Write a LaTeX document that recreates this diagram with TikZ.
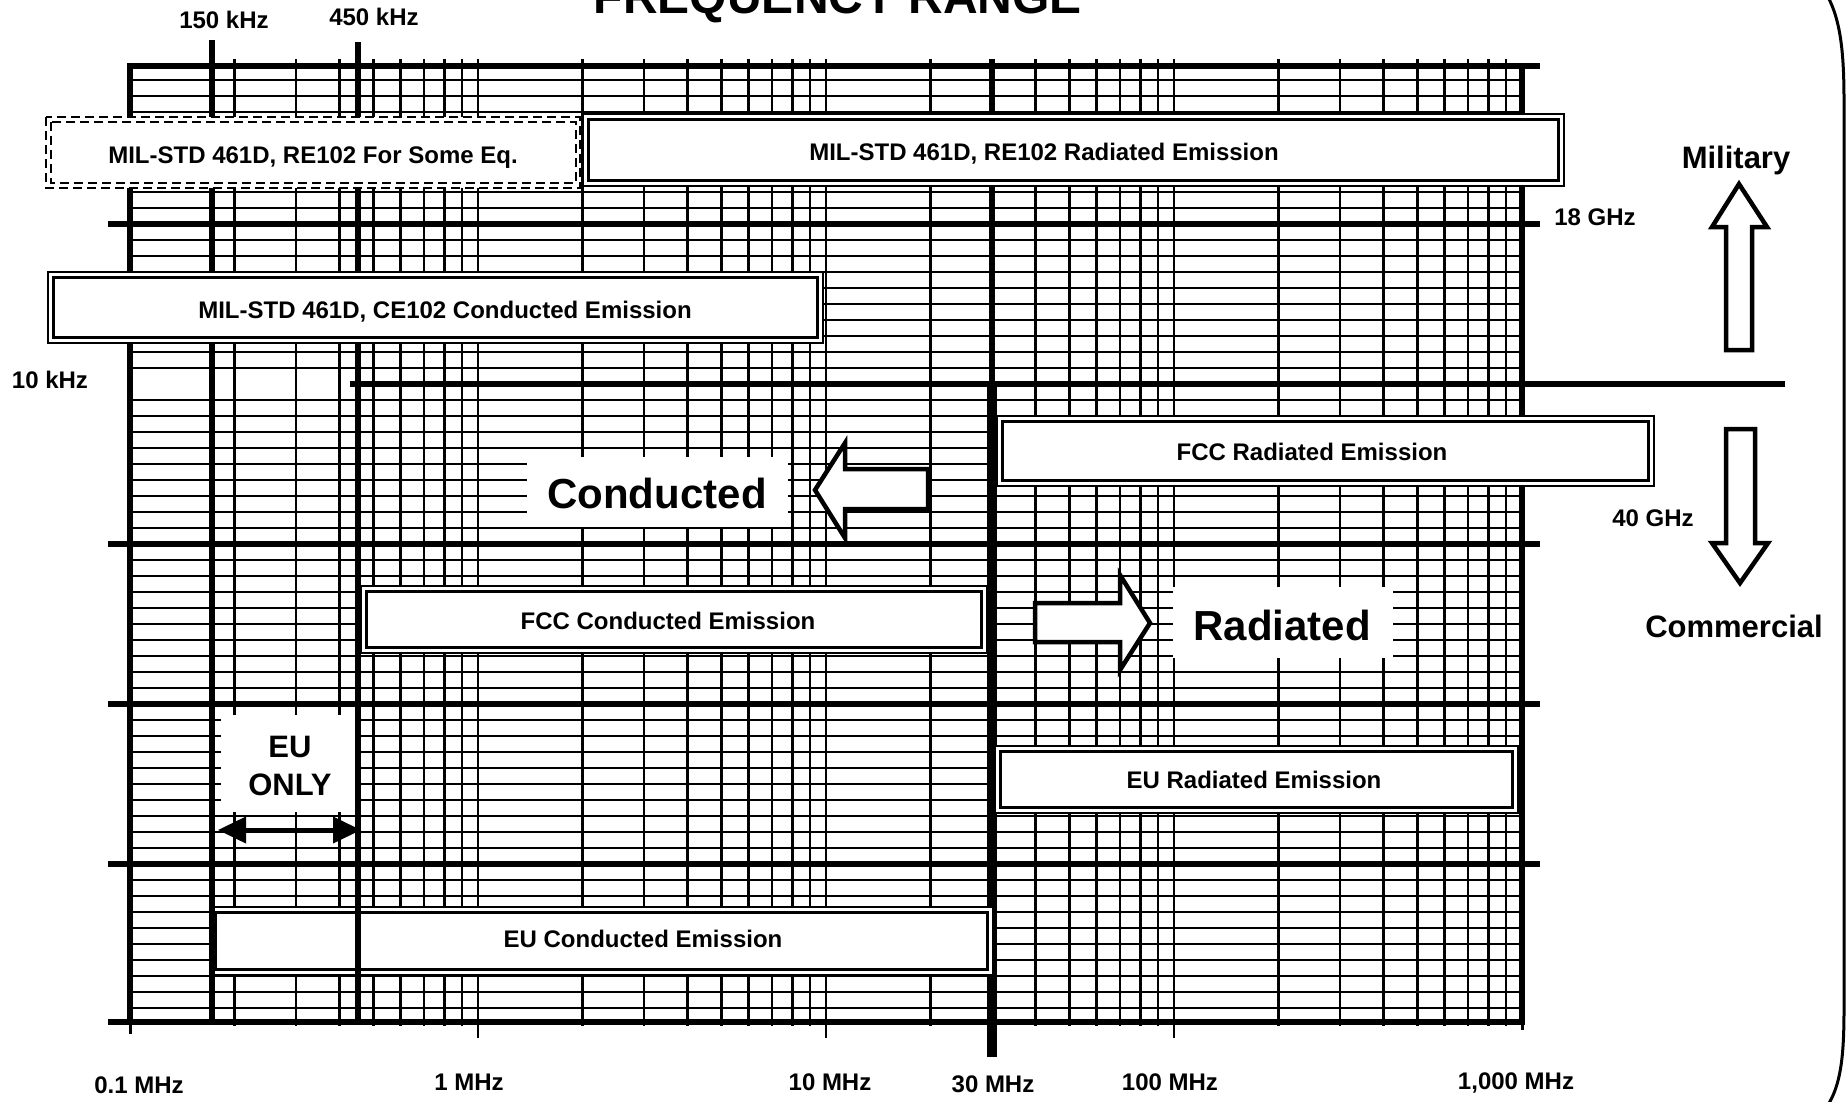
\documentclass[tikz,border=0pt]{standalone}
\usepackage{fontspec}
\setmainfont{Liberation Sans}
\usetikzlibrary{arrows.meta}
\newcommand\dblbox[4]{%
  \draw[dboxo] (#1,#2) rectangle (#3,#4);
  \draw[dboxi] ({#1+5.5},{#2+5.5}) rectangle ({#3-5.5},{#4-5.5});}
\begin{document}
\begin{tikzpicture}[x=1pt,y=-1pt,
  thinl/.style={line width=2.7pt},
  thickl/.style={line width=5.5pt},
  dboxo/.style={draw, line width=1.8pt, fill=white},
  dboxi/.style={draw, line width=2.5pt},
  dashbox/.style={draw, line width=2.4pt, dash pattern=on 9pt off 5pt},
  lbl/.style={font=\fontsize{24}{28}\selectfont\bfseries, anchor=base, inner sep=0pt},
  big/.style={font=\fontsize{42}{48}\selectfont\bfseries, anchor=base, inner sep=0pt},
  mid/.style={font=\fontsize{31}{37}\selectfont\bfseries, anchor=base, inner sep=0pt},
  ttl/.style={font=\fontsize{48}{56}\selectfont\bfseries, anchor=base, inner sep=0pt},
  hollow/.style={draw, line width=4.5pt, fill=white, line join=miter},
  whitearea/.style={fill=white, draw=none}
]
\useasboundingbox[fill=white] (0,0) rectangle (1847,1101);

% ---------- grid ----------
\foreach \k in {1,...,19,21,22,...,59}
  \draw[thinl] (130,{64+16*\k}) -- (1522,{64+16*\k});
\foreach \d in {0,1,2,3}{
  \foreach \l in {0.30103,0.47712,0.60206,0.69897,0.77815,0.84510,0.90309,0.95424}{
    \draw[thinl] ({130+348*(\d+\l)},59) -- ({130+348*(\d+\l)},1026);
  }
}
\foreach \d in {1,2,3}
  \draw[thinl] ({130+348*\d},59) -- ({130+348*\d},1038);
\foreach \y in {224,544,704,864}
  \draw[thickl] (108,\y) -- (1540,\y);
\draw[thickl] (130,66) rectangle (1522,1022);
\draw[thickl] (1522,66) -- (1540,66);
\draw[thickl] (108,1022) -- (130,1022);
\draw[line width=3pt] (130,1022) -- (130,1034);
\draw[line width=3pt] (1522,1022) -- (1522,1030);
% 10 kHz divider
\draw[thickl] (350,384) -- (1785,384);
% 150 kHz, 450 kHz, 30 MHz
\draw[line width=6pt] (212,40) -- (212,1022);
\draw[line width=6pt] (358,42) -- (358,1022);
\draw[thickl] (992,59) -- (992,384);
\draw[line width=9.5pt] (992,384) -- (992,1057);

% ---------- white label areas ----------
\fill[whitearea] (527,457) rectangle (788,527);
\fill[whitearea] (1173,587) rectangle (1393,658);
\fill[whitearea] (221,715) rectangle (355,812);

% ---------- boxes ----------
\fill[white] (46,117) rectangle (580,188);
\draw[dashbox] (46,117) rectangle (580,188);
\draw[dashbox] (51,122) rectangle (576,183);
\dblbox{583}{114}{1564}{186}
\dblbox{48}{272}{823}{343}
\dblbox{997}{416}{1654}{486}
\dblbox{361}{586}{987}{653}
\dblbox{995}{746}{1518}{813}
\dblbox{210}{907}{993}{975}
\draw[line width=6pt] (212,907) -- (212,975);
\draw[line width=6pt] (358,907) -- (358,975);

% ---------- box texts ----------
\node[lbl] (t1) at (313,163) {MIL-STD 461D, RE102 For Some Eq.};
\node[lbl] (t2) at (1044,160) {MIL-STD 461D, RE102 Radiated Emission};
\node[lbl] (t3) at (445,318) {MIL-STD 461D, CE102 Conducted Emission};
\node[lbl] (t4) at (1312,460) {FCC Radiated Emission};
\node[lbl] (t5) at (668,629) {FCC Conducted Emission};
\node[lbl] (t6) at (1254,788) {EU Radiated Emission};
\node[lbl] (t7) at (643,947) {EU Conducted Emission};

% ---------- big labels and arrows ----------
\node[big] (cond) at (657,508) {Conducted};
\node[big] (rad) at (1282,640) {Radiated};
\draw[hollow] (815,490) -- (845,443) -- (845,469) -- (928,469) -- (928,509)
  -- (845,509) -- (845,538) -- cycle;
\draw[hollow] (1035,603) -- (1120,603) -- (1120,575) -- (1150,623) -- (1120,670)
  -- (1120,642) -- (1035,642) -- cycle;
\node[mid] (eu) at (290,757) {EU};
\node[mid] (only) at (290,795) {ONLY};
\coordinate (euL) at (218,830);
\coordinate (euR) at (361,830);
\draw[line width=4pt, {Triangle[length=28pt,width=26pt]}-{Triangle[length=28pt,width=26pt]}] (euL) -- (euR);

% ---------- right side ----------
\node[mid] (mil) at (1736,168) {Military};
\node[mid] (com) at (1734,637) {Commercial};
\draw[hollow] (1739,184) -- (1767,227) -- (1752,227) -- (1752,350) -- (1726,350)
  -- (1726,227) -- (1712,227) -- cycle;
\draw[hollow] (1740,583) -- (1768,543) -- (1755,543) -- (1755,429) -- (1726,429)
  -- (1726,543) -- (1712,543) -- cycle;
\node[lbl] (g18) at (1595,225) {18 GHz};
\node[lbl] (g40) at (1653,526) {40 GHz};

% ---------- axis labels ----------
\node[lbl] (k10) at (50,388) {10 kHz};
\node[lbl] (k150) at (224,28) {150 kHz};
\node[lbl] (k450) at (374,25) {450 kHz};
\node[lbl] (m01) at (139,1093) {0.1 MHz};
\node[lbl] (m1) at (469,1090) {1 MHz};
\node[lbl] (m10) at (830,1090) {10 MHz};
\node[lbl] (m30) at (993,1092) {30 MHz};
\node[lbl] (m100) at (1170,1090) {100 MHz};
\node[lbl] (m1000) at (1516,1089) {1,000 MHz};
\node[ttl] (title) at (838,13) {FREQUENCY RANGE};

% ---------- frame edge ----------
\draw[line width=3pt] (1828,-3) .. controls (1840,20) and (1844,50) .. (1844,100)
  -- (1844,1010) .. controls (1844,1060) and (1840,1085) .. (1828,1105);
\end{tikzpicture}
\end{document}
